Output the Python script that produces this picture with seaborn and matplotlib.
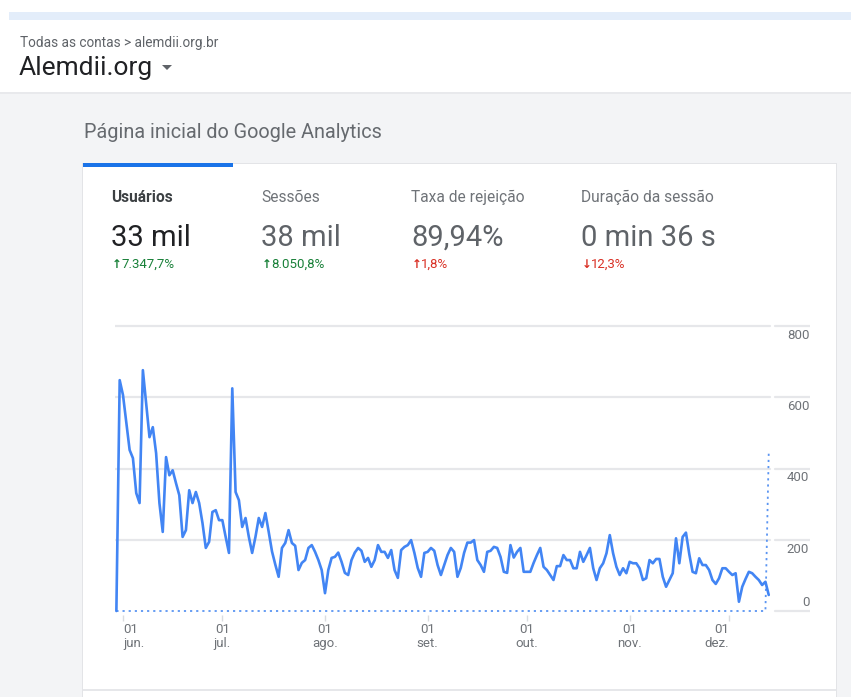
import matplotlib
matplotlib.use("Agg")
import matplotlib.pyplot as plt
import matplotlib.transforms as mtransforms
from matplotlib.patches import Rectangle, Polygon
import pandas as pd
import seaborn as sns

# Daily users (30 May -> 13 Dec)
usuarios = [
    0, 648, 606, 530, 452, 429, 331, 303, 676, 583, 488, 516, 443, 303, 222,
    432, 381, 395, 359, 325, 208, 227, 339, 303, 334, 303, 247, 177, 194, 278,
    283, 255, 255, 208, 163, 625, 334, 311, 236, 261, 208, 163, 208, 261, 236,
    275,
    222, 167, 130, 96, 177, 191, 227, 191, 183, 115, 135, 143, 177, 185, 166,
    143, 115, 50, 115, 149, 152, 164, 138, 107, 101, 143, 164, 177, 169, 138,
    149, 124, 143, 185, 166, 166, 149, 171, 115, 93, 171, 180, 185, 199, 163,
    121, 96, 163, 166, 177, 169,
    129, 101, 129, 157, 177, 166, 96, 121, 163, 192, 192, 199, 143, 129, 110,
    166, 169, 180, 177, 152, 110, 107, 185, 150, 166, 177, 110, 110, 110, 135,
    157, 177, 124, 115, 101, 87, 126, 126, 157, 143, 143, 120, 120, 166, 138,
    157, 177,
    120, 87, 120, 134, 162, 213, 162, 124, 101, 120, 106, 138, 134, 134, 120,
    87, 92, 143, 134, 146, 146, 96, 68, 87, 106, 204, 134, 208, 220, 160,
    110, 106, 148, 129, 129, 115, 87, 76, 92, 120, 120, 110, 101, 106, 26,
    68, 90, 110, 106, 96, 87, 73, 82, 45,
]
# previous period: flat at zero, last day ~445
periodo_anterior = [0] * (len(usuarios) - 1) + [445]
inicio = "2019-05-30"

y_ticks = [0, 200, 400, 600, 800]
x_ticks = ["2019-06-01", "2019-07-01", "2019-08-01", "2019-09-01",
           "2019-10-01", "2019-11-01", "2019-12-01"]
x_labels = ["01\njun.", "01\njul.", "01\nago.", "01\nset.",
            "01\nout.", "01\nnov.", "01\ndez."]

metric_names = ["Usuários", "Sessões", "Taxa de rejeição", "Duração da sessão"]
metric_values = ["33 mil", "38 mil", "89,94%", "0 min 36 s"]
metric_arrows = ["↑", "↑", "↑", "↓"]
metric_changes = ["7.347,7%", "8.050,8%", "1,8%", "12,3%"]
change_colors = ["#188038", "#188038", "#d93025", "#d93025"]

sns.set_theme(style="white")
plt.rcParams["font.family"] = ["Roboto", "DejaVu Sans"]

W, H = 851, 697
fig = plt.figure(figsize=(W / 100, H / 100), dpi=100)
fig.patch.set_facecolor("white")


def fx(px):
    return px / W


def fy(py):
    return 1 - py / H


def rect(x0, y0, x1, y1, color, z=0):
    fig.add_artist(Rectangle((fx(x0), fy(y1)), fx(x1) - fx(x0), fy(y0) - fy(y1),
                             transform=fig.transFigure, facecolor=color,
                             edgecolor="none", zorder=z))


# page chrome
rect(9, 12, W, 20, "#e3edfa")
rect(0, 93, W, H, "#f3f4f6")
rect(0, 92, W, 94, "#e8e9ec")
rect(82, 163, 837, H, "#e3e4e7", z=0.5)
rect(83, 164, 836, H, "white", z=1)
rect(83, 163, 233, 167, "#1a73e8", z=2)
rect(83, 689, 836, 691, "#e6e7ea", z=2)

# header text
fig.text(fx(20), fy(47), "Todas as contas > alemdii.org.br", fontsize=9.8,
         color="#5f6368", va="baseline")
fig.text(fx(19), fy(75), "Alemdii.org", fontsize=19, color="#202124",
         va="baseline")
fig.add_artist(Polygon([(fx(162), fy(65)), (fx(172), fy(65)), (fx(167), fy(70))],
                       closed=True, transform=fig.transFigure,
                       facecolor="#5f6368", edgecolor="none"))
fig.text(fx(84), fy(138), "Página inicial do Google Analytics", fontsize=14.3,
         color="#666a6f", va="baseline", zorder=3)

# metric strip
xs = [111, 261, 411, 581]
for i, name in enumerate(metric_names):
    first = i == 0
    col = change_colors[i]
    fig.text(fx(xs[i]), fy(202), name, fontsize=11.2,
             color="#3c4043" if first else "#6f7378",
             fontweight="bold" if first else "normal", va="baseline", zorder=3)
    fig.text(fx(xs[i]), fy(246), metric_values[i], fontsize=21,
             color="#202124" if first else "#5f6368", va="baseline", zorder=3)
    fig.text(fx(xs[i] + 1), fy(268), metric_arrows[i], fontsize=8.5, color=col,
             fontweight="bold", va="baseline", zorder=3)
    fig.text(fx(xs[i] + 10), fy(268), metric_changes[i], fontsize=9.5,
             color=col, va="baseline", zorder=3)

# chart axes
px_day = (729 - 123) / 183
ax_l, ax_r = 115, 810
ax_top, ax_bot = 611 - 820 * 0.35625, 611 + 10 * 0.35625
ax = fig.add_axes([fx(ax_l), fy(ax_bot), fx(ax_r) - fx(ax_l), fy(ax_top) - fy(ax_bot)])
ax.set_facecolor("none")
ax.set_zorder(4)

df = pd.DataFrame({
    "data": pd.date_range(inicio, periods=len(usuarios)),
    "usuarios": usuarios,
    "anterior": periodo_anterior,
})

jun1 = pd.Timestamp("2019-06-01")
ax.set_xlim(jun1 - pd.Timedelta(days=(123 - ax_l) / px_day),
            jun1 + pd.Timedelta(days=(ax_r - 123) / px_day))
ax.set_ylim(-10, 820)

# grid lines (split under the right-hand labels like GA)
split_a = (770 - ax_l) / (ax_r - ax_l)
split_b = (775 - ax_l) / (ax_r - ax_l)
for v in y_ticks:
    if v > 0:
        ax.axhline(v, 0, split_a, color="#e6e7ea", lw=1.6, zorder=0)
    ax.axhline(v, split_b, 1, color="#e6e7ea", lw=1.6, zorder=0)

sns.lineplot(data=df, x="data", y="anterior", ax=ax, color="#5b95f2",
             linewidth=1.3, linestyle=(0, (1.2, 2.2)), zorder=2, clip_on=False)
sns.lineplot(data=df, x="data", y="usuarios", ax=ax, color="#4285f4",
             linewidth=1.9, zorder=3, clip_on=False)

trans = mtransforms.blended_transform_factory(ax.transAxes, ax.transData)
for v in y_ticks:
    if v == 0:
        ax.text(0.999, v + 5, str(v), transform=trans, ha="right", va="bottom",
                fontsize=9.5, color="#6f7378")
    else:
        ax.text(0.999, v - 8, str(v), transform=trans, ha="right", va="top",
                fontsize=9.5, color="#6f7378")

ax.set_xticks(pd.to_datetime(x_ticks))
ax.set_xticklabels(x_labels, linespacing=1.1)
ax.tick_params(axis="x", length=4, width=1, color="#dadce0", labelsize=9.5,
               labelcolor="#6f7378", pad=2, bottom=True)
labels = ax.get_xticklabels()
labels[0].set_ha("left")
labels[-1].set_ha("right")
ax.set_yticks([])
ax.set_xlabel("")
ax.set_ylabel("")
for s in ax.spines.values():
    s.set_visible(False)

fig.savefig("out.png", dpi=100)
